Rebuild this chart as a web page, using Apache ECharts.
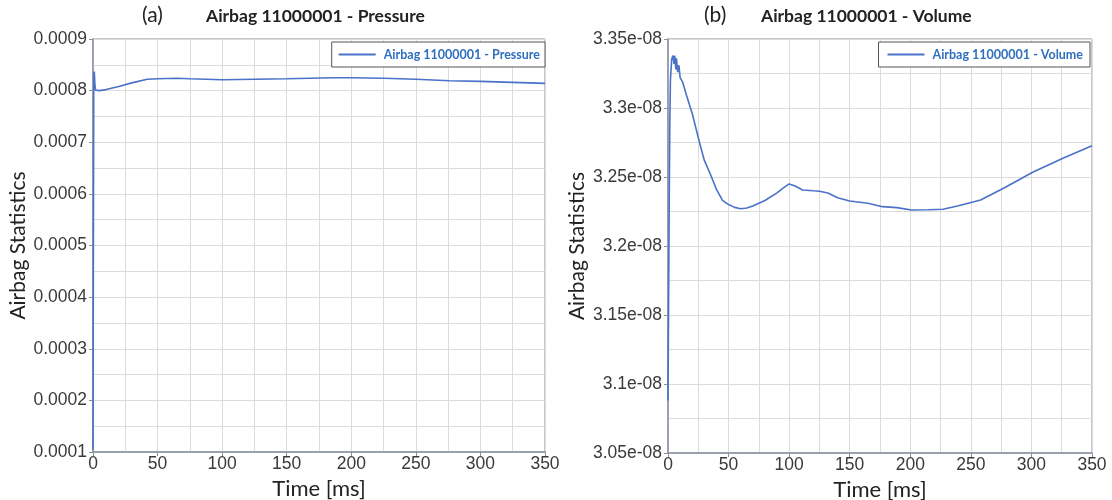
<!DOCTYPE html>
<html>
<head>
<meta charset="utf-8">
<script src="https://cdn.jsdelivr.net/npm/echarts@6/dist/echarts.min.js"></script>
<style>
html,body{margin:0;padding:0;background:#fff;}
#c{width:1112px;height:500px;}
</style>
</head>
<body>
<div id="c"></div>
<script>
// Pressure series (time ms, pressure)
const pressureTime = [0, 0.3, 0.6, 1, 1.5, 2, 3, 5, 10, 20, 30, 42, 50, 65, 75, 100, 125, 150, 186, 200, 225, 250, 276, 300, 325, 350];
const pressureValues = [0.000105, 0.0005, 0.00083, 0.000837, 0.00081, 0.000801, 0.0008, 0.0008, 0.000802, 0.000808, 0.000815, 0.000822, 0.000823, 0.000824, 0.000823, 0.000821, 0.000822, 0.000823, 0.000825, 0.000825, 0.000824, 0.000822, 0.000819, 0.000818, 0.000816, 0.000814];

// Volume series (time ms, volume)
const volumeTime = [0, 0.5, 1, 1.5, 2, 3, 4, 5, 5.5, 6.5, 7, 8, 9, 10, 12, 15, 20, 26, 30, 35, 40, 45, 50, 55, 60, 65, 70, 80, 90, 95, 100, 105, 111, 120, 125, 132, 140, 150, 165, 177, 189, 201, 215, 227, 239, 258, 277, 301, 326, 350];
const volumeValues = [3.088e-8, 3.16e-8, 3.23e-8, 3.29e-8, 3.32e-8, 3.335e-8, 3.338e-8, 3.332e-8, 3.338e-8, 3.328e-8, 3.336e-8, 3.326e-8, 3.331e-8, 3.322e-8, 3.319e-8, 3.31e-8, 3.296e-8, 3.275e-8, 3.262e-8, 3.252e-8, 3.241e-8, 3.233e-8, 3.230e-8, 3.228e-8, 3.227e-8, 3.2275e-8, 3.229e-8, 3.233e-8, 3.2385e-8, 3.242e-8, 3.245e-8, 3.2435e-8, 3.2406e-8, 3.240e-8, 3.2397e-8, 3.2384e-8, 3.235e-8, 3.2326e-8, 3.231e-8, 3.2285e-8, 3.2278e-8, 3.2261e-8, 3.2263e-8, 3.2266e-8, 3.229e-8, 3.2333e-8, 3.2418e-8, 3.2534e-8, 3.2636e-8, 3.2727e-8];

const pressureName = 'Airbag 11000001 - Pressure';
const volumeName = 'Airbag 11000001 - Volume';
const xName = 'Time [ms]';
const yName = 'Airbag Statistics';

const chart = echarts.init(document.getElementById('c'), null, {renderer: 'canvas'});

const lineColor = '#4a72c8';
const tickFont = {fontFamily: 'Liberation Sans, Arial, sans-serif', fontSize: 17.5, color: '#3a3a3a'};
const xNameFont = {fontFamily: 'Lato, Open Sans, sans-serif', fontSize: 22, color: '#222'};
const yNameFont = {fontFamily: 'Lato, Open Sans, sans-serif', fontSize: 21, color: '#222'};
const gridLine = {show: true, lineStyle: {color: '#dcdcdc', width: 1}};
const axisLineStyle = {show: true, lineStyle: {color: '#8a90a0', width: 1.5}};
const legendIcon = 'path://M0,0 L40,0 L40,2 L0,2 Z';

function xAxisFor(gridIndex) {
  return {
    type: 'value', gridIndex, min: 0, max: 350, interval: 50,
    name: xName, nameLocation: 'middle', nameGap: 25, nameTextStyle: xNameFont,
    axisLine: axisLineStyle,
    axisTick: {show: true, length: 4, inside: false, lineStyle: {color: '#8a90a0'}},
    axisLabel: Object.assign({margin: 3}, tickFont),
    splitLine: gridLine,
    minorTick: {show: false, splitNumber: 2},
    minorSplitLine: gridLine
  };
}

chart.setOption({
  animation: false,
  backgroundColor: '#fff',
  title: [
    {text: '(a)', left: 137, top: 0, textStyle: {fontFamily: 'Lato, sans-serif', fontSize: 21, fontWeight: 'normal', color: '#222'}},
    {text: pressureName, left: 201, top: 2, textStyle: {fontFamily: 'Lato, sans-serif', fontSize: 17.5, fontWeight: 'bold', color: '#222'}},
    {text: '(b)', left: 699, top: 0, textStyle: {fontFamily: 'Lato, sans-serif', fontSize: 21, fontWeight: 'normal', color: '#222'}},
    {text: volumeName, left: 756, top: 2, textStyle: {fontFamily: 'Lato, sans-serif', fontSize: 17.5, fontWeight: 'bold', color: '#222'}}
  ],
  legend: [
    {data: [{name: pressureName, icon: legendIcon}], right: 567, top: 42, orient: 'horizontal',
     backgroundColor: '#fff', borderColor: '#555', borderWidth: 1, padding: [6, 5, 6, 7],
     itemWidth: 37, itemHeight: 2, itemGap: 5,
     textStyle: {fontFamily: 'Lato, sans-serif', fontSize: 12.5, fontWeight: 'bold', color: '#2f6fbf', padding: [0, 0, 0, 3]}},
    {data: [{name: volumeName, icon: legendIcon}], right: 22, top: 42, orient: 'horizontal',
     backgroundColor: '#fff', borderColor: '#555', borderWidth: 1, padding: [6, 7, 6, 9],
     itemWidth: 37, itemHeight: 2, itemGap: 5,
     textStyle: {fontFamily: 'Lato, sans-serif', fontSize: 12.5, fontWeight: 'bold', color: '#2f6fbf', padding: [0, 0, 0, 3]}}
  ],
  grid: [
    {left: 93, right: 567, top: 39, height: 413, outerBoundsMode: 'none', containLabel: false, show: true, borderColor: '#8a90a0', borderWidth: 1, backgroundColor: 'transparent'},
    {left: 668, right: 20, top: 39, height: 414, outerBoundsMode: 'none', containLabel: false, show: true, borderColor: '#8a90a0', borderWidth: 1, backgroundColor: 'transparent'}
  ],
  xAxis: [xAxisFor(0), xAxisFor(1)],
  yAxis: [
    {type: 'value', gridIndex: 0, min: 0.0001, max: 0.0009, interval: 0.0001,
     name: yName, nameLocation: 'middle', nameGap: 64, nameTextStyle: yNameFont,
     axisLine: axisLineStyle,
     axisTick: {show: true, length: 4, lineStyle: {color: '#8a90a0'}},
     axisLabel: Object.assign({margin: 6, formatter: v => v.toFixed(4)}, tickFont),
     splitLine: gridLine, minorTick: {show: false, splitNumber: 2}, minorSplitLine: gridLine},
    {type: 'value', gridIndex: 1, min: 3.05e-8, max: 3.35e-8, interval: 0.05e-8,
     name: yName, nameLocation: 'middle', nameGap: 80, nameTextStyle: yNameFont,
     axisLine: axisLineStyle,
     axisTick: {show: true, length: 4, lineStyle: {color: '#8a90a0'}},
     axisLabel: Object.assign({margin: 6, formatter: v => (+(v * 1e8).toFixed(2)) + 'e-08'}, tickFont),
     splitLine: gridLine, minorTick: {show: false, splitNumber: 2}, minorSplitLine: gridLine}
  ],
  series: [
    {name: pressureName, type: 'line', xAxisIndex: 0, yAxisIndex: 0, showSymbol: false, symbol: 'none',
     data: pressureTime.map((t, i) => [t, pressureValues[i]]),
     lineStyle: {color: lineColor, width: 1.6}, itemStyle: {color: lineColor}},
    {name: volumeName, type: 'line', xAxisIndex: 1, yAxisIndex: 1, showSymbol: false, symbol: 'none',
     data: volumeTime.map((t, i) => [t, volumeValues[i]]),
     lineStyle: {color: lineColor, width: 1.6}, itemStyle: {color: lineColor}}
  ]
});
</script>
</body>
</html>
